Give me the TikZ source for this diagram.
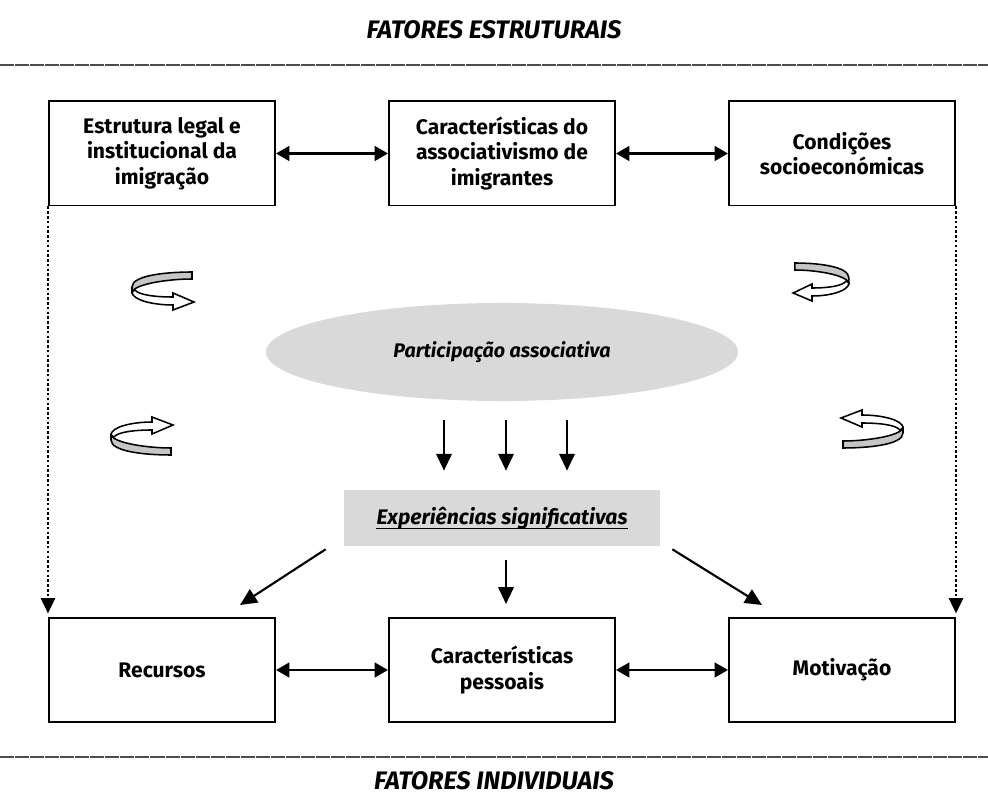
\documentclass[tikz,border=0pt]{standalone}
\usepackage{fontspec}
\setmainfont{Fira Sans}
\usetikzlibrary{arrows.meta,shapes.geometric}
\definecolor{shade}{HTML}{D9D9D9}
\definecolor{ribbon}{HTML}{C6C6C6}
\definecolor{rulegray}{HTML}{4D4D4D}

\tikzset{
  factor/.style={draw,line width=1.4pt,minimum width=5.65cm,minimum height=2.6cm,align=center,
    font=\fontsize{15}{18}\selectfont\bfseries},
  heading/.style={inner sep=1pt,font=\fontsize{18}{20}\selectfont\bfseries\itshape},
  twoway/.style={{Triangle[length=9.5pt,width=10.5pt]}-{Triangle[length=9.5pt,width=10.5pt]},line width=1.5pt},
  flow/.style={-{Triangle[length=12pt,width=11pt]},line width=1.5pt},
  dotlink/.style={-{Triangle[length=11pt,width=10pt]},line width=2pt,dash pattern=on 1.8pt off 1.6pt},
  separator/.style={rulegray,line width=1.4pt,dash pattern=on 10pt off 0.7pt},
  swirl/.pic={
    \filldraw[fill=ribbon,line width=1.1pt] (29,-18) .. controls (5,-18) and (-31,-15) .. (-31,-3)
      -- (-31,2) .. controls (-28,-6) and (5,-11) .. (29,-11) -- cycle;
    \filldraw[fill=white,line width=1.1pt] (-31,2) .. controls (-31,10) and (-10,15) .. (10,15)
      -- (10,20) -- (31,12) -- (10,3) -- (10,7) .. controls (-8,7) and (-24,5) .. (-28,0) -- cycle;
  }
}

\begin{document}
\begin{tikzpicture}[x=0.025cm,y=-0.025cm]
  \useasboundingbox (0,0) rectangle (988,800);

  % headings and separators
  \node[heading] (estrut) at (494,30) {FATORES ESTRUTURAIS};
  \node[heading] (indiv) at (494,781) {FATORES INDIVIDUAIS};
  \draw[separator] (0,65) -- (988,65);
  \draw[separator] (0,757) -- (988,757);

  % structural factors
  \node[factor] (estrutura) at (162,153.5) {Estrutura legal e\\institucional da\\imigração};
  \node[factor] (assoc) at (502,153.5) {Características do\\associativismo de\\imigrantes};
  \node[factor] (condicoes) at (842,153.5) {Condições\\socioeconómicas};

  % individual factors
  \node[factor] (recursos) at (162,670) {Recursos};
  \node[factor] (pessoais) at (502,670) {Características\\pessoais};
  \node[factor] (motivacao) at (842,670) {Motivação};

  % centre
  \node[ellipse,fill=shade,minimum width=11.8cm,minimum height=2.45cm,
    font=\fontsize{14}{16}\selectfont\bfseries\itshape] (part) at (502,352) {Participação associativa};
  \node[fill=shade,minimum width=7.9cm,minimum height=1.4cm] (exp) at (502,518) {};
  \node[inner sep=0pt,font=\fontsize{15}{17}\selectfont\bfseries\itshape] (exptext) at (exp) {Experiências significativas};
  \draw[line width=1.1pt] ([yshift=-3pt]exptext.base west) -- ([yshift=-3pt]exptext.base east);

  % connectors
  \draw[twoway] (estrutura) -- (assoc);
  \draw[twoway] (assoc) -- (condicoes);
  \draw[twoway] (recursos) -- (pessoais);
  \draw[twoway] (pessoais) -- (motivacao);
  \draw[dotlink] (estrutura.south west) -- ([yshift=2.5pt]recursos.north west);
  \draw[dotlink] (condicoes.south east) -- ([yshift=2.5pt]motivacao.north east);
  \foreach \dx in {-58,4,65}
    \draw[flow,shorten <=0.475cm,shorten >=0.475cm] ([xshift=\dx*0.025cm]part.south) -- ([xshift=\dx*0.025cm]exp.north);
  \draw[flow] ([xshift=-0.45cm,yshift=-0.075cm]exp.south west) -- ([xshift=1.95cm,yshift=0.3cm]recursos.north);
  \draw[flow,shorten <=0.35cm,shorten >=0.325cm] ([xshift=0.1cm]exp.south) -- ([xshift=0.1cm]pessoais.north);
  \draw[flow] ([xshift=0.3cm,yshift=-0.075cm]exp.south east) -- ([xshift=-2cm,yshift=0.3cm]motivacao.north);

  % feedback loops
  \pic at (163,290) {swirl};
  \pic[xscale=-0.9] at (821,281) {swirl};
  \pic[yscale=-1] at (142,437) {swirl};
  \pic[xscale=-1,yscale=-1] at (872,430) {swirl};
\end{tikzpicture}
\end{document}
